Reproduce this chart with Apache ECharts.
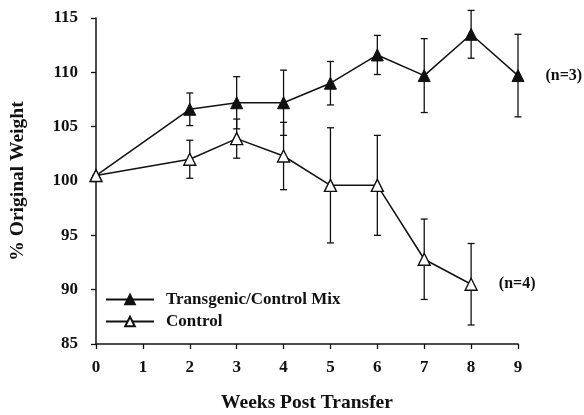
<!DOCTYPE html>
<html>
<head>
<meta charset="utf-8">
<script src="https://cdn.jsdelivr.net/npm/echarts@6/dist/echarts.min.js"></script>
<style>html,body{margin:0;padding:0;background:#fff}#c{width:584px;height:415px}</style>
</head>
<body>
<div id="c"></div>
<script>
const tgWeeks = [0, 2, 3, 4, 5, 6, 7, 8, 9];
const tgValues = [100.5, 106.6, 107.2, 107.2, 109.0, 111.6, 109.7, 113.5, 109.7];
const tgErrors = [0, 1.5, 2.4, 3.0, 2.0, 1.8, 3.4, 2.2, 3.8];
const ctlWeeks = [0, 2, 3, 4, 5, 6, 7, 8];
const ctlValues = [100.5, 102.0, 103.9, 102.3, 99.6, 99.6, 92.8, 90.5];
const ctlErrors = [0, 1.75, 1.8, 3.1, 5.3, 4.6, 3.7, 3.75];
const seriesNames = ['Transgenic/Control Mix', 'Control'];
const nLabels = ['(n=3)', '(n=4)'];

const FONT = '"Liberation Serif", "Times New Roman", serif';
const chart = echarts.init(document.getElementById('c'), null, {renderer: 'canvas'});

function pts(w, v) { return w.map((x, i) => [x, v[i]]); }
function errData(w, v, e) { return w.map((x, i) => [x, v[i] - e[i], v[i] + e[i]]); }

function errRender(params, api) {
  const x = api.value(0);
  const lo = api.coord([x, api.value(1)]);
  const hi = api.coord([x, api.value(2)]);
  const cw = 3.5;
  const style = {stroke: '#111', lineWidth: 1.3};
  return {
    type: 'group',
    children: [
      {type: 'line', shape: {x1: lo[0], y1: lo[1], x2: hi[0], y2: hi[1]}, style},
      {type: 'line', shape: {x1: lo[0] - cw, y1: lo[1], x2: lo[0] + cw, y2: lo[1]}, style},
      {type: 'line', shape: {x1: hi[0] - cw, y1: hi[1], x2: hi[0] + cw, y2: hi[1]}, style}
    ]
  };
}

function lastLabel(w, v, text) {
  return pts(w, v).map((p, i) => i === w.length - 1
    ? {value: p, label: {show: true, position: 'right', distance: 21, formatter: text,
        color: '#111', fontFamily: FONT, fontWeight: 'bold', fontSize: 16}}
    : p);
}

chart.setOption({
  animation: false,
  backgroundColor: '#fff',
  grid: {left: 96, right: 66, top: 18, bottom: 71, containLabel: false, outerBoundsMode: 'none'},
  legend: {
    left: 100, top: 286, orient: 'vertical', itemWidth: 48, itemHeight: 12, itemGap: 5,
    textStyle: {fontFamily: FONT, fontWeight: 'bold', fontSize: 17, color: '#111', padding: [0, 0, 0, 7]},
    data: seriesNames
  },
  xAxis: {
    type: 'value', min: 0, max: 9, interval: 1,
    name: 'Weeks Post Transfer', nameLocation: 'middle', nameGap: 49,
    nameTextStyle: {fontFamily: FONT, fontWeight: 'bold', fontSize: 19.5, color: '#111'},
    axisLine: {lineStyle: {color: '#111', width: 1.5}},
    axisTick: {length: 5, lineStyle: {color: '#111', width: 1.3}},
    axisLabel: {fontFamily: FONT, fontWeight: 'bold', fontSize: 17, color: '#111', margin: 15},
    splitLine: {show: false}
  },
  yAxis: {
    type: 'value', min: 85, max: 115, interval: 5,
    name: '% Original Weight', nameLocation: 'middle', nameGap: 68, nameRotate: 90,
    nameTextStyle: {fontFamily: FONT, fontWeight: 'bold', fontSize: 19.5, color: '#111'},
    axisLine: {show: true, lineStyle: {color: '#111', width: 1.5}},
    axisTick: {show: true, length: 5, lineStyle: {color: '#111', width: 1.3}},
    axisLabel: {fontFamily: FONT, fontWeight: 'bold', fontSize: 17, color: '#111', margin: 18},
    splitLine: {show: false}
  },
  series: [
    {type: 'custom', renderItem: errRender, data: errData(tgWeeks, tgValues, tgErrors), z: 1, silent: true},
    {type: 'custom', renderItem: errRender, data: errData(ctlWeeks, ctlValues, ctlErrors), z: 1, silent: true},
    {
      name: seriesNames[0], type: 'line', data: lastLabel(tgWeeks, tgValues, nLabels[0]),
      symbol: 'triangle', symbolSize: 12, showAllSymbol: true, z: 3,
      lineStyle: {color: '#111', width: 1.5},
      itemStyle: {color: '#111', borderColor: '#111', borderWidth: 1}
    },
    {
      name: seriesNames[1], type: 'line', data: lastLabel(ctlWeeks, ctlValues, nLabels[1]),
      symbol: 'triangle', symbolSize: 12, showAllSymbol: true, z: 4,
      lineStyle: {color: '#111', width: 1.5},
      itemStyle: {color: '#fff', borderColor: '#111', borderWidth: 1.4}
    }
  ]
});
</script>
</body>
</html>
